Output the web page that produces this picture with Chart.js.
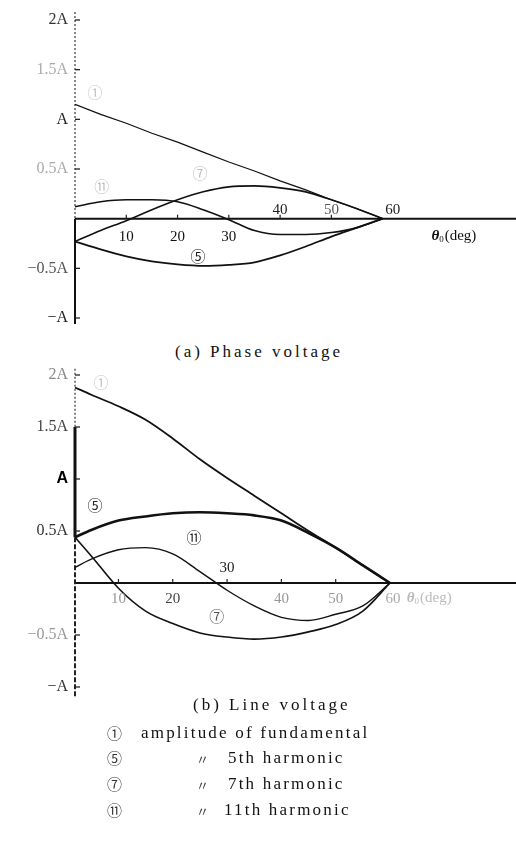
<!DOCTYPE html>
<html>
<head>
<meta charset="utf-8">
<script src="https://cdn.jsdelivr.net/npm/chart.js@4.4.1/dist/chart.umd.min.js"></script>
<style>
  html, body { margin: 0; padding: 0; background: #fff; }
  body { width: 516px; height: 842px; position: relative; overflow: hidden; }
  canvas { position: absolute; left: 0; }
  #phaseChart { top: 0; }
  #lineChart { top: 362px; }
  .txt { position: absolute; white-space: nowrap; line-height: 18px; color: #111;
         font-family: "Liberation Serif", "Times New Roman", "Noto Sans CJK JP", serif; font-size: 17px; }
  .cap { letter-spacing: 3px; }
  .leg { letter-spacing: 2.2px; }
  .sym { font-family: "Noto Sans CJK JP", "DejaVu Sans", sans-serif; font-size: 15px; color: #333; letter-spacing: 0; }
  .ditto { font-family: "Noto Sans CJK JP", sans-serif; font-size: 13px; color: #444; letter-spacing: 0; }
</style>
</head>
<body>
<canvas id="phaseChart" width="516" height="340"></canvas>
<div class="txt cap" style="left:175px; top:343px;">(a) Phase voltage</div>
<canvas id="lineChart" width="516" height="340"></canvas>
<div class="txt cap" style="left:193px; top:696px;">(b) Line voltage</div>

<div class="txt sym" style="left:107px; top:724px;">①</div>
<div class="txt leg" style="left:141px; top:724px;">amplitude of fundamental</div>
<div class="txt sym" style="left:107px; top:749px;">⑤</div>
<div class="txt ditto" style="left:196px; top:750px;">〃</div>
<div class="txt leg" style="left:228px; top:749px;">5th harmonic</div>
<div class="txt sym" style="left:107px; top:775px;">⑦</div>
<div class="txt ditto" style="left:196px; top:776px;">〃</div>
<div class="txt leg" style="left:228px; top:775px;">7th harmonic</div>
<div class="txt sym" style="left:107px; top:801px;">⑪</div>
<div class="txt ditto" style="left:196px; top:802px;">〃</div>
<div class="txt leg" style="left:224px; top:801px;">11th harmonic</div>

<script>
// Notch angle θ0 in degrees and harmonic amplitudes in units of A.

// (a) phase voltage
const thetaPhase = [0, 5, 10, 15, 20, 25, 30, 35, 40, 45, 50, 55, 60];
const phaseFund  = [1.15, 1.05, 0.96, 0.86, 0.77, 0.67, 0.57, 0.48, 0.38, 0.29, 0.19, 0.10, 0];
const phase5th   = [-0.23, -0.31, -0.38, -0.43, -0.46, -0.475, -0.465, -0.44, -0.37, -0.28, -0.18, -0.09, 0];
const phase7th   = [-0.23, -0.12, -0.02, 0.09, 0.19, 0.27, 0.32, 0.33, 0.31, 0.27, 0.19, 0.10, 0];
const phase11th  = [0.12, 0.17, 0.19, 0.19, 0.17, 0.09, -0.01, -0.12, -0.16, -0.16, -0.14, -0.09, 0];

// (b) line voltage
const thetaLine = [2, 5, 10, 15, 20, 25, 30, 35, 40, 45, 50, 55, 60];
const lineFund  = [1.88, 1.81, 1.70, 1.57, 1.39, 1.19, 1.01, 0.84, 0.67, 0.50, 0.34, 0.17, 0];
const line5th   = [0.44, 0.51, 0.60, 0.64, 0.67, 0.68, 0.67, 0.65, 0.60, 0.48, 0.34, 0.17, 0];
const line7th   = [0.44, 0.26, -0.05, -0.27, -0.39, -0.48, -0.52, -0.54, -0.52, -0.47, -0.40, -0.27, 0];
const line11th  = [0.15, 0.23, 0.32, 0.34, 0.28, 0.11, -0.07, -0.22, -0.33, -0.36, -0.30, -0.22, 0];

// axis ticks
const yTickValues = [2, 1.5, 1, 0.5, -0.5, -1];
const yTickLabels = ['2A', '1.5A', 'A', '0.5A', '\u22120.5A', '\u2212A'];
const xTickValues = [10, 20, 30, 40, 50, 60];
const xTickLabels = ['10', '20', '30', '40', '50', '60'];

const pts = (xs, ys) => xs.map((x, i) => ({ x: x, y: ys[i] }));

function curve(xs, ys, width, straight) {
  return {
    data: pts(xs, ys),
    borderColor: '#111',
    borderWidth: width,
    pointRadius: 0,
    fill: false,
    tension: straight ? 0 : 0.4,
    cubicInterpolationMode: straight ? 'default' : 'monotone'
  };
}

const SERIF = '"Liberation Serif", "Times New Roman", serif';
const CJK = '"Noto Sans CJK JP", "DejaVu Sans", sans-serif';

// Draws the hand-style axes, tick marks, tick labels and curve tags
const paperAxes = {
  id: 'paperAxes',
  beforeDatasetsDraw(chart, args, o) {
    const { ctx, chartArea: ca, scales: { x, y } } = chart;
    const x0 = x.getPixelForValue(x.min);
    const y0 = y.getPixelForValue(0);
    ctx.save();
    ctx.lineCap = 'butt';
    // horizontal axis
    ctx.strokeStyle = '#111';
    ctx.lineWidth = o.xAxisWidth;
    ctx.beginPath(); ctx.moveTo(x0, y0); ctx.lineTo(ca.right, y0); ctx.stroke();
    // vertical axis, drawn piecewise
    o.ySegments.forEach(s => {
      ctx.strokeStyle = s.color;
      ctx.lineWidth = s.width;
      ctx.setLineDash(s.dash || []);
      ctx.beginPath();
      ctx.moveTo(x0, y.getPixelForValue(s.from));
      ctx.lineTo(x0, y.getPixelForValue(s.to));
      ctx.stroke();
    });
    ctx.setLineDash([]);
    // y tick marks pointing right
    ctx.strokeStyle = '#222';
    ctx.lineWidth = 1.3;
    yTickValues.forEach(v => {
      const py = y.getPixelForValue(v);
      ctx.beginPath(); ctx.moveTo(x0, py); ctx.lineTo(x0 + 5, py); ctx.stroke();
    });
    // x tick marks pointing up
    ctx.lineWidth = 1.2;
    xTickValues.slice(0, 5).forEach(v => {
      const px = x.getPixelForValue(v);
      ctx.beginPath(); ctx.moveTo(px, y0); ctx.lineTo(px, y0 - 4); ctx.stroke();
    });
    ctx.restore();
  },
  afterDatasetsDraw(chart, args, o) {
    const { ctx, scales: { x, y } } = chart;
    const x0 = x.getPixelForValue(x.min);
    const y0 = y.getPixelForValue(0);
    ctx.save();
    ctx.textBaseline = 'middle';
    // y tick labels
    ctx.textAlign = 'right';
    yTickLabels.forEach((t, i) => {
      ctx.fillStyle = o.yLabelColors[i];
      ctx.font = (o.yLabelFonts && o.yLabelFonts[i]) || ('16px ' + SERIF);
      ctx.fillText(t, x0 - 7, y.getPixelForValue(yTickValues[i]));
    });
    // x tick labels, above or below the axis
    ctx.textAlign = 'center';
    ctx.font = '15px ' + SERIF;
    xTickLabels.forEach((t, i) => {
      const up = o.xLabelSide[i] === 'above';
      ctx.fillStyle = o.xLabelColors[i];
      const dx = xTickValues[i] === 60 ? o.sixtyShift : 0;
      ctx.fillText(t, x.getPixelForValue(xTickValues[i]) + dx, y0 + (up ? -o.aboveGap : o.belowGap));
    });
    // axis title θ0(deg)
    ctx.textAlign = 'left';
    ctx.fillStyle = o.titleColor;
    let tx = x.getPixelForValue(o.titleAt);
    const ty = y0 + o.titleGap;
    ctx.font = 'italic bold 15px ' + SERIF;
    ctx.fillText('\u03b8', tx, ty);
    tx += ctx.measureText('\u03b8').width;
    ctx.font = '9px ' + SERIF;
    ctx.fillText('0', tx, ty + 4);
    tx += ctx.measureText('0').width + 1;
    ctx.font = '15px ' + SERIF;
    ctx.fillText('(deg)', tx, ty);
    // curve tags
    ctx.textAlign = 'center';
    ctx.font = '15px ' + CJK;
    o.tags.forEach(g => {
      ctx.fillStyle = g.color;
      ctx.fillText(g.text, x.getPixelForValue(g.x), y.getPixelForValue(g.y));
    });
    ctx.restore();
  }
};

function makeChart(id, datasets, xmin, xmax, pad, axisOpts) {
  return new Chart(document.getElementById(id), {
    type: 'line',
    data: { datasets: datasets },
    options: {
      responsive: false,
      animation: false,
      devicePixelRatio: 1,
      layout: { padding: pad },
      scales: {
        x: { type: 'linear', min: xmin, max: xmax, display: false },
        y: { type: 'linear', min: -1, max: 2, display: false }
      },
      plugins: { legend: { display: false }, tooltip: { enabled: false }, paperAxes: axisOpts }
    },
    plugins: [paperAxes]
  });
}

makeChart('phaseChart', [
  curve(thetaPhase, phaseFund, 1.2, true),
  curve(thetaPhase, phase5th, 1.8),
  curve(thetaPhase, phase7th, 1.6),
  curve(thetaPhase, phase11th, 1.6)
], 0, 86, { left: 75, right: 0, top: 20, bottom: 22 }, {
  xAxisWidth: 2,
  ySegments: [
    { from: 2.08, to: 0, width: 1.3, color: '#444', dash: [2, 2] },
    { from: 0, to: -1.06, width: 2, color: '#111' }
  ],
  yLabelColors: ['#333', '#aaa', '#222', '#aaa', '#555', '#222'],
  xLabelSide: ['below', 'below', 'below', 'above', 'above', 'above'],
  xLabelColors: ['#111', '#111', '#111', '#222', '#555', '#222'],
  sixtyShift: 10,
  aboveGap: 9, belowGap: 18,
  titleAt: 69.5, titleGap: 17, titleColor: '#111',
  tags: [
    { text: '①', x: 3.9, y: 1.27, color: '#c4c4c4' },
    { text: '⑪', x: 5.2, y: 0.33, color: '#bdbdbd' },
    { text: '⑦', x: 24.4, y: 0.46, color: '#bdbdbd' },
    { text: '⑤', x: 24.0, y: -0.38, color: '#222' }
  ]
});

makeChart('lineChart', [
  curve(thetaLine, lineFund, 1.8),
  curve(thetaLine, line5th, 2.6),
  curve(thetaLine, line7th, 1.6),
  curve(thetaLine, line11th, 1.4)
], 2, 83.2, { left: 75, right: 0, top: 13, bottom: 15 }, {
  xAxisWidth: 2,
  ySegments: [
    { from: 2.06, to: 1.5, width: 1.3, color: '#444', dash: [2, 2] },
    { from: 1.5, to: 0.44, width: 3, color: '#111' },
    { from: 0.44, to: -1.1, width: 2, color: '#222', dash: [5, 2] }
  ],
  yLabelColors: ['#888', '#444', '#000', '#333', '#999', '#333'],
  yLabelFonts: [null, null, 'bold 16px "Liberation Sans", Arial, sans-serif', null, null, null],
  xLabelSide: ['below', 'below', 'above', 'below', 'below', 'below'],
  xLabelColors: ['#999', '#444', '#222', '#999', '#999', '#aaa'],
  sixtyShift: 3,
  aboveGap: 15, belowGap: 16,
  titleAt: 63.1, titleGap: 15, titleColor: '#bbb',
  tags: [
    { text: '①', x: 6.8, y: 1.93, color: '#c4c4c4' },
    { text: '⑤', x: 5.7, y: 0.75, color: '#222' },
    { text: '⑪', x: 23.9, y: 0.44, color: '#222' },
    { text: '⑦', x: 28.1, y: -0.32, color: '#555' }
  ]
});
</script>
</body>
</html>
